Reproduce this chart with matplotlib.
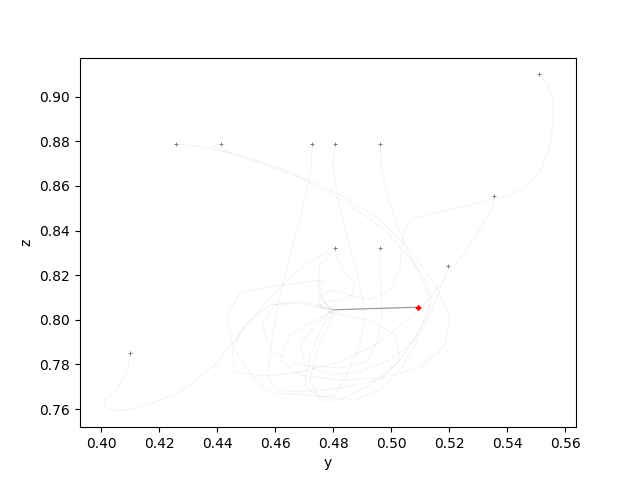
import matplotlib
matplotlib.use("Agg")
from matplotlib import pyplot as plt

# trajectories projected on the y-z plane, one list of (y, z) per run
traj_1 = [(0.4258, 0.8788), (0.4340, 0.8776), (0.4478, 0.8740), (0.4651, 0.8664),
          (0.4823, 0.8560), (0.4961, 0.8448), (0.5064, 0.8314), (0.5151, 0.8157),
          (0.5202, 0.8022), (0.5185, 0.7888), (0.5099, 0.7785), (0.4961, 0.7739),
          (0.4823, 0.7730), (0.4685, 0.7753), (0.4616, 0.7820), (0.4651, 0.7932),
          (0.4754, 0.8009), (0.4810, 0.8044), (0.5092, 0.8056)]
traj_2 = [(0.4414, 0.8788), (0.4386, 0.8780), (0.4417, 0.8758), (0.4547, 0.8704),
          (0.4685, 0.8637), (0.4840, 0.8529), (0.4978, 0.8403), (0.5064, 0.8278),
          (0.5116, 0.8157), (0.5133, 0.8044), (0.5082, 0.7910), (0.4996, 0.7820),
          (0.4892, 0.7766), (0.4789, 0.7753), (0.4702, 0.7798), (0.4685, 0.7887),
          (0.4737, 0.7977), (0.4800, 0.8043), (0.5094, 0.8058)]
traj_3 = [(0.4728, 0.8788), (0.4723, 0.8672), (0.4702, 0.8538), (0.4671, 0.8381),
          (0.4640, 0.8233), (0.4609, 0.8067), (0.4589, 0.7910), (0.4575, 0.7753),
          (0.4599, 0.7686), (0.4685, 0.7677), (0.4823, 0.7694), (0.4961, 0.7730),
          (0.5030, 0.7820), (0.5013, 0.7932), (0.4927, 0.8000), (0.4840, 0.8018),
          (0.4780, 0.8036), (0.4815, 0.8045), (0.5091, 0.8055)]
traj_4 = [(0.4807, 0.8788), (0.4799, 0.8695), (0.4813, 0.8560), (0.4840, 0.8403),
          (0.4875, 0.8246), (0.4899, 0.8112), (0.4909, 0.8000), (0.4885, 0.7865),
          (0.4840, 0.7739), (0.4806, 0.7663), (0.4754, 0.7650), (0.4702, 0.7708),
          (0.4720, 0.7843), (0.4765, 0.7977), (0.4805, 0.8044), (0.5095, 0.8057)]
traj_5 = [(0.4962, 0.8788), (0.4965, 0.8695), (0.4985, 0.8560), (0.5020, 0.8426),
          (0.5064, 0.8291), (0.5116, 0.8179), (0.5140, 0.8089), (0.5099, 0.7955),
          (0.5030, 0.7820), (0.4927, 0.7708), (0.4823, 0.7641), (0.4754, 0.7641),
          (0.4720, 0.7730), (0.4750, 0.7887), (0.4795, 0.8009), (0.4820, 0.8046),
          (0.5093, 0.8059)]
traj_6 = [(0.5510, 0.9102), (0.5540, 0.9054), (0.5558, 0.8987), (0.5558, 0.8874),
          (0.5544, 0.8762), (0.5513, 0.8664), (0.5461, 0.8592), (0.5409, 0.8560),
          (0.5354, 0.8542), (0.5271, 0.8515), (0.5168, 0.8484), (0.5082, 0.8457),
          (0.5047, 0.8412), (0.5037, 0.8336), (0.5030, 0.8224), (0.4996, 0.8134),
          (0.4927, 0.8089), (0.4789, 0.8134), (0.4748, 0.8089), (0.4760, 0.8050),
          (0.4810, 0.8045), (0.5092, 0.8058)]
traj_7 = [(0.5355, 0.8555), (0.5348, 0.8502), (0.5313, 0.8426), (0.5265, 0.8323),
          (0.5202, 0.8215), (0.5133, 0.8098), (0.5047, 0.7991), (0.4944, 0.7887),
          (0.4823, 0.7811), (0.4685, 0.7766), (0.4564, 0.7748), (0.4461, 0.7766),
          (0.4451, 0.7865), (0.4495, 0.7977), (0.4582, 0.8067), (0.4685, 0.8075),
          (0.4771, 0.8052), (0.4805, 0.8046), (0.5094, 0.8056)]
traj_8 = [(0.4807, 0.8321), (0.4813, 0.8278), (0.4840, 0.8215), (0.4875, 0.8166),
          (0.4865, 0.8112), (0.4823, 0.8089), (0.4771, 0.8080), (0.4748, 0.8062),
          (0.4795, 0.8045), (0.5093, 0.8057)]
traj_9 = [(0.4962, 0.8321), (0.4961, 0.8246), (0.4965, 0.8134), (0.4968, 0.8022),
          (0.4954, 0.7910), (0.4916, 0.7811), (0.4823, 0.7784), (0.4685, 0.7798),
          (0.4582, 0.7865), (0.4554, 0.7977), (0.4599, 0.8070), (0.4685, 0.8085),
          (0.4765, 0.8060), (0.4810, 0.8046), (0.5095, 0.8055)]
traj_10 = [(0.4100, 0.7850), (0.4092, 0.7775), (0.4058, 0.7695), (0.4013, 0.7641),
           (0.4009, 0.7614), (0.4048, 0.7591), (0.4133, 0.7605), (0.4272, 0.7677),
           (0.4392, 0.7798), (0.4495, 0.7964), (0.4599, 0.8125), (0.4702, 0.8246),
           (0.4782, 0.8305), (0.4789, 0.8287), (0.4754, 0.8246), (0.4748, 0.8179),
           (0.4761, 0.8112), (0.4771, 0.8075), (0.4800, 0.8046), (0.5090, 0.8055)]
traj_11 = [(0.5197, 0.8240), (0.5168, 0.8134), (0.5133, 0.8022), (0.5082, 0.7888),
           (0.5030, 0.7775), (0.4961, 0.7686), (0.4875, 0.7641), (0.4816, 0.7650),
           (0.4720, 0.7663), (0.4582, 0.7672), (0.4523, 0.7744), (0.4455, 0.7878),
           (0.4434, 0.8013), (0.4478, 0.8121), (0.4571, 0.8148), (0.4685, 0.8166),
           (0.4771, 0.8179), (0.4748, 0.8148), (0.4761, 0.8090), (0.4790, 0.8047),
           (0.5091, 0.8059)]

trajectories = [traj_1, traj_2, traj_3, traj_4, traj_5, traj_6,
                traj_7, traj_8, traj_9, traj_10, traj_11]

fig, ax = plt.subplots(figsize=(6.4, 4.8), dpi=100)

for traj in trajectories:
    ys = [p[0] for p in traj]
    zs = [p[1] for p in traj]
    ax.plot(ys, zs, color="k", alpha=0.06, lw=0.6)
    ax.plot(ys[0], zs[0], "+", color="gray", ms=2.5, mew=0.7)
    ax.plot(ys[-1], zs[-1], "+", color="red", ms=2.5, mew=0.7)

ax.set_xlim(0.3927, 0.5637)
ax.set_ylim(0.7519, 0.9175)
ax.set_xlabel("y")
ax.set_ylabel("z")

plt.savefig("out.png", dpi=100)
